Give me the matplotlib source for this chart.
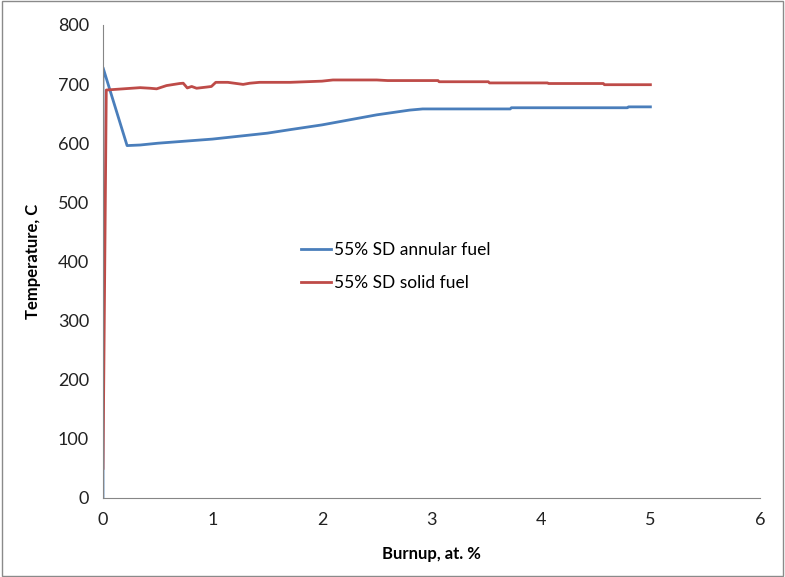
import matplotlib.pyplot as plt
from matplotlib.patches import Rectangle

plt.rcParams['font.family'] = ['Lato', 'DejaVu Sans']

# blue series: 55% SD annular fuel
annular_x = [0.0, 0.0, 0.22, 0.34, 0.5, 1.0, 1.5, 1.71, 2.0, 2.5, 2.8, 2.92, 3.72, 3.73, 4.79, 4.80, 5.0]
annular_y = [0, 728, 596, 597, 600, 607, 617, 623, 631, 648, 656, 658, 658, 660, 660, 661.5, 661.5]

# red series: 55% SD solid fuel
solid_x = [0.0, 0.03, 0.185, 0.34, 0.43, 0.49, 0.58, 0.70, 0.733, 0.77, 0.81, 0.855, 0.947, 0.99,
           1.03, 1.14, 1.22, 1.28, 1.34, 1.43, 1.71, 2.0, 2.1, 2.5, 2.6, 3.06, 3.07, 3.52, 3.53,
           4.06, 4.07, 4.57, 4.58, 5.0]
solid_y = [50, 690, 692, 694, 693, 692, 697.5, 701, 701.5, 693.5, 696, 693, 695, 696,
           703, 703, 701, 699.5, 701.5, 703, 703, 705, 707, 707, 706, 706, 704, 704, 702,
           702, 701, 701, 699, 699]

fig = plt.figure(figsize=(7.85, 5.77), dpi=100)
ax = fig.add_axes([0.1312, 0.137, 0.8368, 0.8197])

ax.plot(annular_x, annular_y, color='#4a7ebb', lw=2, label='55% SD annular fuel')
ax.plot(solid_x, solid_y, color='#be4b48', lw=2, label='55% SD solid fuel')

ax.set_xlim(0, 6)
ax.set_ylim(0, 800)
ax.set_xticks(range(0, 7))
ax.set_yticks(range(0, 801, 100))
ax.tick_params(length=0, labelsize=13, pad=10, colors='#222222')

for side in ['top', 'right']:
    ax.spines[side].set_visible(False)
for side in ['left', 'bottom']:
    ax.spines[side].set_color('#868686')

ax.set_xlabel('Burnup, at. %', fontsize=12, fontweight='bold', labelpad=13)
ax.set_ylabel('Temperature, C', fontsize=12, fontweight='bold', labelpad=12)

ax.legend(loc='upper left', bbox_to_anchor=(0.278, 0.575), frameon=False, fontsize=12.5,
          handlelength=1.7, handletextpad=0.2, labelspacing=1.0)

# thin frame round the whole chart
fig.patches.append(Rectangle((0.002, 0.002), 0.996, 0.996, transform=fig.transFigure,
                             fill=False, edgecolor='#8a8a8a', lw=1))

fig.savefig('out.png', dpi=100)
